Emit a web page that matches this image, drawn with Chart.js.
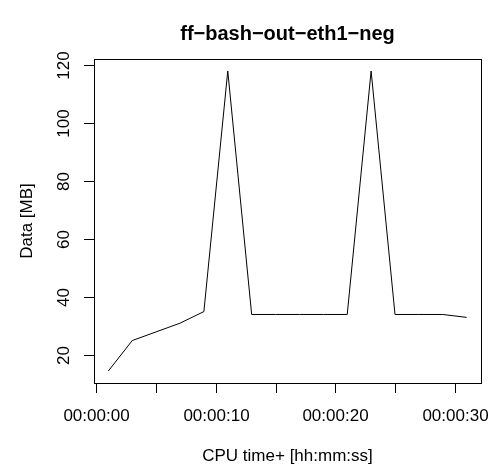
<!DOCTYPE html>
<html>
<head>
<meta charset="utf-8">
<script src="https://cdn.jsdelivr.net/npm/chart.js@4"></script>
<style>
  body { margin: 0; background: #fff; }
  canvas { display: block; }
</style>
</head>
<body>
<canvas id="chart" width="493" height="470"></canvas>
<script>
// CPU time in seconds and data volume in MB
const seconds = [1, 3, 5, 7, 9, 11, 13, 15, 17, 19, 21, 23, 25, 27, 29, 31];
const dataMB = [14.5, 25, 28, 31, 35, 118, 34, 34, 34, 34, 34, 118, 34, 34, 34, 33];

const xTickValues = [0, 5, 10, 15, 20, 25, 30];
const xTickLabels = ['00:00:00', '', '00:00:10', '', '00:00:20', '', '00:00:30'];
const yTickValues = [20, 40, 60, 80, 100, 120];
const yTickLabels = ['20', '40', '60', '80', '100', '120'];

const chartTitle = 'ff\u2212bash\u2212out\u2212eth1\u2212neg';
const xTitle = 'CPU time+ [hh:mm:ss]';
const yTitle = 'Data [MB]';

const FONT = '"Liberation Sans", Arial, sans-serif';

// R style range: data range extended by 4% each side
function padRange(values) {
  const lo = Math.min(...values), hi = Math.max(...values);
  const d = (hi - lo) * 0.04;
  return [lo - d, hi + d];
}
const xRange = padRange(seconds);
const yRange = padRange(dataMB);

const rAxes = {
  id: 'rAxes',
  afterDraw(chart) {
    const ctx = chart.ctx;
    const area = chart.chartArea;
    const xs = chart.scales.x, ys = chart.scales.y;
    ctx.save();
    ctx.strokeStyle = '#000';
    ctx.fillStyle = '#000';
    ctx.lineWidth = 1;

    // box
    ctx.strokeRect(Math.round(area.left) + 0.5, Math.round(area.top) + 0.5,
      Math.round(area.right - area.left), Math.round(area.bottom - area.top));

    // x axis ticks and labels
    ctx.font = '17px ' + FONT;
    ctx.textAlign = 'center';
    ctx.textBaseline = 'middle';
    xTickValues.forEach((v, i) => {
      const px = Math.round(xs.getPixelForValue(v)) + 0.5;
      ctx.beginPath();
      ctx.moveTo(px, area.bottom);
      ctx.lineTo(px, area.bottom + 10);
      ctx.stroke();
      if (xTickLabels[i]) ctx.fillText(xTickLabels[i], px, area.bottom + 33);
    });

    // y axis ticks and labels (rotated)
    yTickValues.forEach((v, i) => {
      const py = Math.round(ys.getPixelForValue(v)) + 0.5;
      ctx.beginPath();
      ctx.moveTo(area.left, py);
      ctx.lineTo(area.left - 10, py);
      ctx.stroke();
      ctx.save();
      ctx.translate(area.left - 30, py);
      ctx.rotate(-Math.PI / 2);
      ctx.fillText(yTickLabels[i], 0, 0);
      ctx.restore();
    });

    // axis titles
    ctx.fillText(xTitle, (area.left + area.right) / 2, 456);
    ctx.save();
    ctx.translate(27, (area.top + area.bottom) / 2);
    ctx.rotate(-Math.PI / 2);
    ctx.fillText(yTitle, 0, 0);
    ctx.restore();

    // main title
    ctx.font = 'bold 20px ' + FONT;
    ctx.fillText(chartTitle, (area.left + area.right) / 2, 34);
    ctx.restore();
  }
};

new Chart(document.getElementById('chart'), {
  type: 'line',
  data: {
    datasets: [{
      data: seconds.map((s, i) => ({ x: s, y: dataMB[i] })),
      borderColor: '#000',
      borderWidth: 1,
      pointRadius: 0,
      tension: 0,
      fill: false
    }]
  },
  options: {
    responsive: false,
    animation: false,
    devicePixelRatio: 1,
    layout: { padding: { left: 94, top: 59, right: 12, bottom: 87 } },
    plugins: { legend: { display: false }, tooltip: { enabled: false } },
    scales: {
      x: { type: 'linear', min: xRange[0], max: xRange[1], display: false },
      y: { type: 'linear', min: yRange[0], max: yRange[1], display: false }
    }
  },
  plugins: [rAxes]
});
</script>
</body>
</html>
